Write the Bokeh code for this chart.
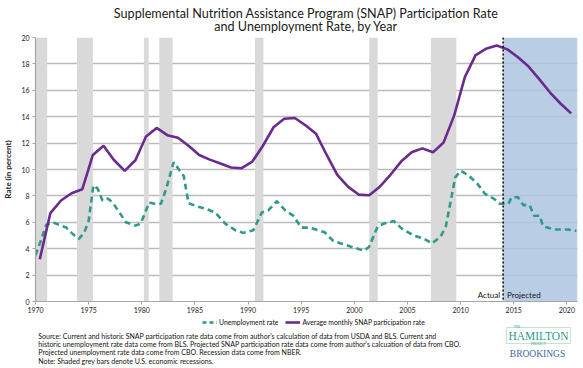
from bokeh.plotting import figure
from bokeh.layouts import column
from bokeh.models import Label, Legend, LegendItem, Span
from bokeh.embed import file_html
from bokeh.resources import INLINE

# ---------------- data ----------------
snap_years = list(range(1970, 2021))
snap_rate = [3.2, 6.7, 7.65, 8.2, 8.5, 11.1, 11.8, 10.7, 9.9, 10.7,
             12.5, 13.15, 12.6, 12.4, 11.8, 11.1, 10.75, 10.45, 10.15, 10.1,
             10.6, 11.8, 13.2, 13.85, 13.9, 13.35, 12.7, 11.1, 9.6, 8.7,
             8.1, 8.05, 8.7, 9.6, 10.6, 11.3, 11.6, 11.3, 12.05, 14.1,
             17.0, 18.65, 19.15, 19.4, 19.1, 18.5, 17.8, 16.85, 15.85, 15.0,
             14.25]

unemp_time = [1970.0, 1970.5, 1971.0, 1971.6, 1972.4, 1972.9, 1973.4, 1973.8, 1974.1, 1974.6,
              1975.0, 1975.45, 1975.85, 1976.3, 1976.8, 1977.25, 1977.9, 1978.5, 1979.4, 1979.9,
              1980.2, 1980.7, 1981.2, 1981.8, 1982.3, 1983.0, 1983.95, 1984.4, 1985.2, 1986.1,
              1986.9, 1987.85, 1988.8, 1989.55, 1990.5, 1991.3, 1991.9, 1992.7, 1993.5, 1994.25,
              1995.0, 1995.8, 1996.6, 1997.2, 1998.0, 1998.75, 1999.7, 2000.9, 2001.4, 2002.2,
              2002.8, 2003.7, 2004.5, 2005.6, 2006.55, 2007.3, 2008.1, 2008.6, 2009.5, 2010.0,
              2010.75, 2011.55, 2012.3, 2013.1, 2013.7, 2014.5, 2014.8, 2015.4, 2015.9, 2016.5,
              2016.9, 2017.45, 2017.75, 2018.85, 2020.1, 2020.9]
unemp_rate = [3.5, 4.6, 5.8, 6.0, 5.75, 5.6, 5.2, 4.9, 4.75, 5.25,
              6.1, 8.8, 8.55, 7.65, 7.8, 7.5, 6.75, 6.0, 5.75, 5.9,
              6.5, 7.5, 7.4, 7.4, 8.55, 10.55, 9.5, 7.45, 7.2, 7.0,
              6.75, 5.9, 5.4, 5.2, 5.4, 6.75, 6.9, 7.6, 6.9, 6.5,
              5.6, 5.6, 5.4, 5.25, 4.6, 4.4, 4.15, 3.85, 4.15, 5.7,
              5.9, 6.1, 5.5, 5.0, 4.75, 4.4, 4.9, 5.65, 9.4, 9.9,
              9.55, 8.95, 8.15, 7.8, 7.4, 7.4, 7.9, 7.9, 7.3, 7.3,
              6.5, 6.5, 5.7, 5.45, 5.45, 5.35]

rec_start = [1970.05, 1973.9, 1980.2, 1981.65, 1990.65, 2001.4, 2007.2]
rec_end = [1971.1, 1975.4, 1980.65, 1982.9, 1991.45, 2002.2, 2009.6]

proj_start = [2014]
proj_end = [2021]

x_ticks = [1970, 1975, 1980, 1985, 1990, 1995, 2000, 2005, 2010, 2015, 2020]
y_ticks = [0, 2, 4, 6, 8, 10, 12, 14, 16, 18, 20]

title_1 = "Supplemental Nutrition Assistance Program (SNAP) Participation Rate"
title_2 = "and Unemployment Rate, by Year"
legend_labels = ["Unemployment rate", "Average monthly SNAP participation rate"]
source_lines = [
    "Source: Current and historic SNAP participation rate data come from author's calculation of data from USDA and BLS.  Current and",
    "historic unemployment rate data come from BLS. Projected SNAP participation rate data come from author's calcuation of data from CBO.",
    "Projected unemployment rate data come from CBO. Recession data come from NBER.",
    "Note: Shaded grey bars denote U.S. economic recessions.",
]

# ---------------- layout constants ----------------
W, H = 583, 368
TITLE_H = 33
FL, FR = 32, 577
TOP_B, FRAME_H, BOT_B = 4, 264, 16
MAIN_H = TOP_B + FRAME_H + BOT_B
FOOT_H = H - TITLE_H - MAIN_H
X0, X1 = 1970, 2021
Y0, Y1 = 0, 20

PURPLE = "#6a2a8e"
TEAL = "#2f9a8a"
FONT = "Lato"
TXT = "#1a1a1a"


def blank(h):
    f = figure(width=W, height=h, x_range=(0, W), y_range=(h, 0),
               x_axis_type=None, y_axis_type=None, output_backend="svg",
               toolbar_location=None, min_border=0)
    f.outline_line_color = None
    f.background_fill_color = "white"
    f.border_fill_color = "white"
    return f


# ---------------- title ----------------
t = blank(TITLE_H)
t.add_layout(Label(x=291, y=13, text=title_1, text_align="center",
                   text_baseline="middle", text_font=FONT,
                   text_font_size="12.6px", text_color=TXT))
t.add_layout(Label(x=291, y=26, text=title_2, text_align="center",
                   text_baseline="middle", text_font=FONT,
                   text_font_size="12.6px", text_color=TXT))

# ---------------- main chart ----------------
p = figure(width=W, height=MAIN_H, x_range=(X0, X1), y_range=(Y0, Y1),
           output_backend="svg", toolbar_location=None,
           min_border_left=FL, min_border_right=W - FR,
           min_border_top=TOP_B, min_border_bottom=BOT_B)
p.outline_line_color = None
p.background_fill_color = "white"
p.border_fill_color = "white"

p.xgrid.visible = False
p.ygrid.ticker = y_ticks
p.ygrid.grid_line_color = "#bcbcbc"
p.ygrid.grid_line_width = 1.6

p.xaxis.ticker = x_ticks
p.yaxis.ticker = y_ticks
for ax in (p.xaxis, p.yaxis):
    ax.axis_line_color = "#a6a6a6"
    ax.axis_line_width = 1.2
    ax.major_tick_line_color = "#a6a6a6"
    ax.minor_tick_line_color = None
    ax.major_tick_in = 0
    ax.major_tick_out = 3
    ax.major_label_text_font = FONT
    ax.major_label_text_font_size = "7px"
    ax.major_label_text_color = "#222222"
p.xaxis.major_label_standoff = 2
p.yaxis.major_label_standoff = 3
p.yaxis.axis_label = "Rate (in percent)"
p.yaxis.axis_label_text_font = FONT
p.yaxis.axis_label_text_font_size = "8px"
p.yaxis.axis_label_text_font_style = "bold"
p.yaxis.axis_label_text_color = "#222222"
p.yaxis.axis_label_standoff = 5

p.quad(left=rec_start, right=rec_end, bottom=Y0, top=Y1,
       fill_color="#d9d9d9", line_color=None)
p.quad(left=proj_start, right=proj_end, bottom=Y0, top=Y1,
       fill_color="#adc5e1", fill_alpha=0.85, line_color=None)

r_u = p.line(unemp_time, unemp_rate, line_color=TEAL, line_width=2.6,
             line_dash="6 4")
r_s = p.line([y + 0.4 for y in snap_years], snap_rate, line_color=PURPLE,
             line_width=2.6)

p.add_layout(Span(location=proj_start[0], dimension="height",
                  line_color="black", line_dash="2 2", line_width=1.5))

label_y = Y0 + 7 / (FRAME_H / (Y1 - Y0))
p.add_layout(Label(x=proj_start[0], y=label_y, text="Actual", x_offset=-3,
                   text_align="right", text_baseline="middle",
                   text_font=FONT, text_font_size="8px", text_color="#111111"))
p.add_layout(Label(x=proj_start[0], y=label_y, text="Projected", x_offset=4,
                   text_align="left", text_baseline="middle",
                   text_font=FONT, text_font_size="8px", text_color="#111111"))

# ---------------- footer ----------------
f = blank(FOOT_H)
# legend keys: single-point renderers styled like the chart's lines
# (a one-point line draws nothing; it only gives the legend its key style)
k_u = f.line(x=[0], y=[0], line_color=TEAL, line_width=2.6, line_dash="4 3")
k_s = f.line(x=[0], y=[0], line_color=PURPLE, line_width=2.6)
legend = Legend(items=[LegendItem(label=legend_labels[0], renderers=[k_u]),
                       LegendItem(label=legend_labels[1], renderers=[k_s])],
                orientation="horizontal", location=(167, FOOT_H - 9),
                glyph_width=15, glyph_height=8, label_standoff=2, spacing=7,
                padding=0, margin=0, border_line_color=None,
                background_fill_alpha=0, label_text_font=FONT,
                label_text_font_size="6.8px", label_height=8,
                label_text_color="#111111")
f.add_layout(legend)

for i, line in enumerate(source_lines):
    f.add_layout(Label(x=3, y=18 + 8.4 * i, text=line,
                       text_align="left", text_baseline="middle",
                       text_font=FONT, text_font_size="7px",
                       text_color="#111111"))

f.add_layout(Label(x=541, y=18, text="HAMILTON", text_align="center",
                   text_baseline="middle", text_font="Liberation Serif",
                   text_font_size="11.5px", text_color="#2a9a8c",
                   border_line_color="#c8e2cc", border_line_width=1,
                   padding=2))
f.add_layout(Label(x=518, y=9.5, text="THE", text_align="center",
                   text_baseline="middle", text_font="Liberation Serif",
                   text_font_size="3.5px", text_color="#2a9a8c"))
f.add_layout(Label(x=541, y=26, text="PROJECT", text_align="center",
                   text_baseline="middle", text_font="Liberation Serif",
                   text_font_size="3.5px", text_color="#2a9a8c"))
f.add_layout(Label(x=540, y=36, text="BROOKINGS", text_align="center",
                   text_baseline="middle", text_font="Liberation Serif",
                   text_font_size="9.5px", text_color="#3a6aa6"))

layout = column(t, p, f, spacing=0)
open("out.html", "w").write(file_html(layout, INLINE))
